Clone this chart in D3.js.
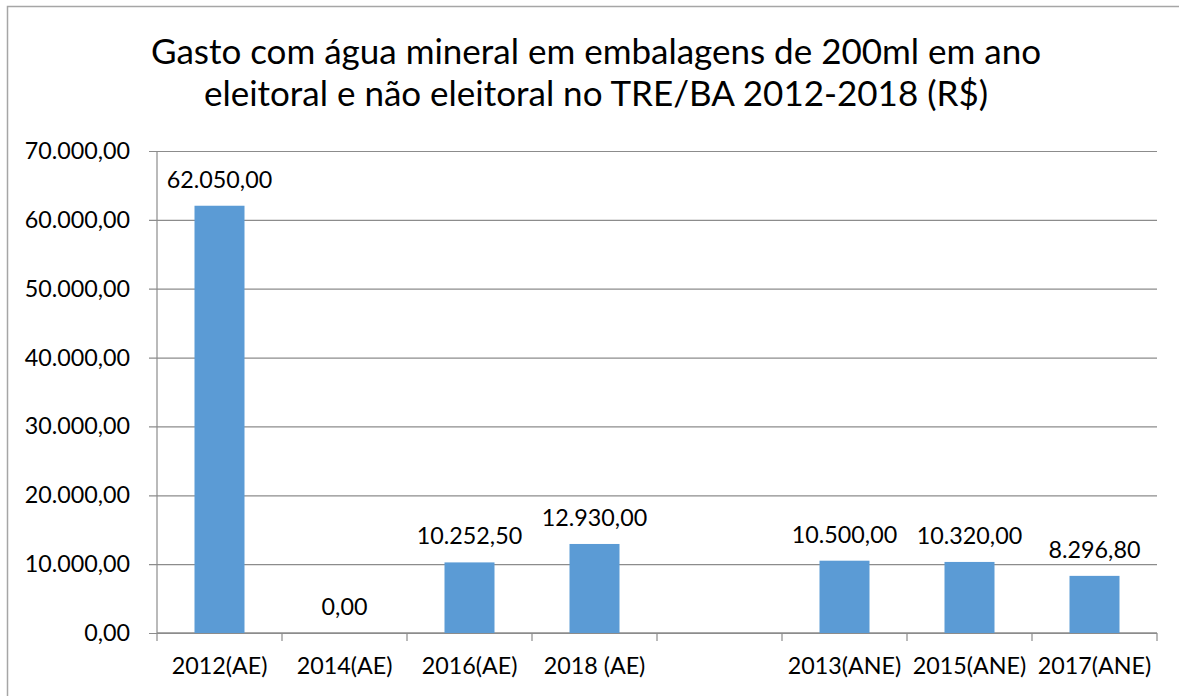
<!DOCTYPE html>
<html>
<head>
<meta charset="utf-8">
<script src="https://cdn.jsdelivr.net/npm/d3@7"></script>
<style>
  body { margin: 0; background: #fff; }
  text { font-family: Lato, "Open Sans", sans-serif; fill: #000; }
</style>
</head>
<body>
<svg id="chart"></svg>
<script>
var categories = ["2012(AE)", "2014(AE)", "2016(AE)", "2018 (AE)", "", "2013(ANE)", "2015(ANE)", "2017(ANE)"];
var values = [62050, 0, 10252.5, 12930, null, 10500, 10320, 8296.8];
var yTicks = [0, 10000, 20000, 30000, 40000, 50000, 60000, 70000];
var titleLines = ["Gasto com água mineral em embalagens de 200ml em ano", "eleitoral e não eleitoral no TRE/BA 2012-2018 (R$)"];

var width = 1179, height = 696;
var margin = { top: 151, right: 22, bottom: 63, left: 157 };
var innerW = width - margin.left - margin.right;
var innerH = height - margin.top - margin.bottom;
var labelSize = "23.3px";

var br = d3.formatLocale({ decimal: ",", thousands: ".", grouping: [3], currency: ["R$", ""] });
var fmt = br.format(",.2f");

var svg = d3.select("#chart")
    .attr("width", width)
    .attr("height", height);

// outer chart border (runs off the right and bottom of the picture)
svg.append("rect")
    .attr("x", 7.5).attr("y", 6.5)
    .attr("width", width + 20).attr("height", height + 20)
    .attr("fill", "none")
    .attr("stroke", "#a6a6a6")
    .attr("stroke-width", 1.5);

svg.append("text")
    .attr("text-anchor", "middle")
    .style("font-size", "35px")
    .selectAll("tspan")
    .data(titleLines)
    .join("tspan")
    .attr("x", 596)
    .attr("y", function(d, i) { return 64 + i * 42; })
    .text(function(d) { return d; });

var g = svg.append("g")
    .attr("transform", "translate(" + margin.left + "," + margin.top + ")");

var xScale = d3.scaleBand()
    .domain(d3.range(categories.length))
    .range([0, innerW])
    .paddingInner(0.6)
    .paddingOuter(0.3);

var yScale = d3.scaleLinear()
    .domain([0, 70000])
    .range([innerH, 0]);

// gridlines + y labels
var yAxis = d3.axisLeft(yScale)
    .tickValues(yTicks)
    .tickSize(-innerW)
    .tickPadding(27)
    .tickFormat(fmt);
g.append("g")
    .attr("class", "y-axis")
    .call(yAxis)
    .call(function(a) { a.select(".domain").remove(); })
    .call(function(a) {
        a.selectAll(".tick line")
            .attr("x1", -8)
            .attr("stroke", "#8c8c8c")
            .attr("stroke-width", 1.2);
        a.selectAll(".tick text")
            .style("font-size", labelSize)
            .attr("fill", "#000");
    });

// vertical axis line
g.append("line")
    .attr("x1", 0).attr("x2", 0)
    .attr("y1", 0).attr("y2", innerH)
    .attr("stroke", "#8c8c8c")
    .attr("stroke-width", 1.2);

// x axis with ticks between categories
var step = xScale.step();
var xAxisG = g.append("g")
    .attr("transform", "translate(0," + innerH + ")");
xAxisG.append("line")
    .attr("x1", 0).attr("x2", innerW)
    .attr("stroke", "#8c8c8c")
    .attr("stroke-width", 1.4);
xAxisG.selectAll(".xtick")
    .data(d3.range(categories.length + 1))
    .join("line")
    .attr("class", "xtick")
    .attr("x1", function(i) { return i * step; })
    .attr("x2", function(i) { return i * step; })
    .attr("y1", 0).attr("y2", 8)
    .attr("stroke", "#8c8c8c")
    .attr("stroke-width", 1.2);
xAxisG.selectAll(".xlabel")
    .data(categories)
    .join("text")
    .attr("class", "xlabel")
    .attr("x", function(d, i) { return xScale(i) + xScale.bandwidth() / 2; })
    .attr("y", 41)
    .attr("text-anchor", "middle")
    .style("font-size", labelSize)
    .text(function(d) { return d; });

// bars
var barData = values.map(function(v, i) { return { i: i, v: v }; })
    .filter(function(d) { return d.v !== null; });

g.selectAll(".bar")
    .data(barData)
    .join("rect")
    .attr("class", "bar")
    .attr("x", function(d) { return xScale(d.i); })
    .attr("width", xScale.bandwidth())
    .attr("y", function(d) { return yScale(d.v); })
    .attr("height", function(d) { return innerH - yScale(d.v); })
    .attr("fill", "#5b9bd5");

g.selectAll(".value")
    .data(barData)
    .join("text")
    .attr("class", "value")
    .attr("x", function(d) { return xScale(d.i) + xScale.bandwidth() / 2; })
    .attr("y", function(d) { return yScale(d.v) - 18; })
    .attr("text-anchor", "middle")
    .style("font-size", labelSize)
    .text(function(d) { return fmt(d.v); });
</script>
</body>
</html>
